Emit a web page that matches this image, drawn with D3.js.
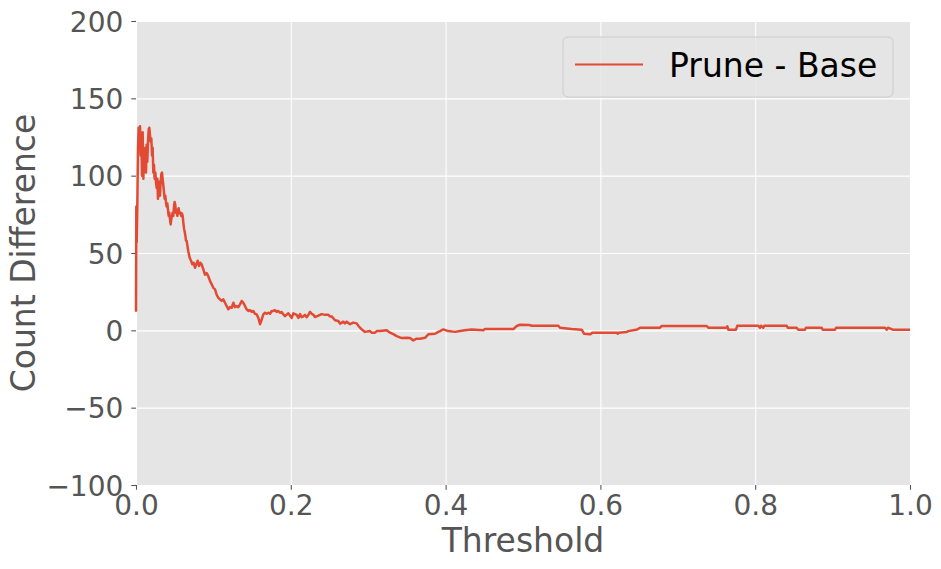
<!DOCTYPE html>
<html>
<head>
<meta charset="utf-8">
<script src="https://cdn.jsdelivr.net/npm/d3@7"></script>
<style>
  body { margin: 0; background: #fff; }
  text { font-family: "DejaVu Sans", sans-serif; }
</style>
</head>
<body>
<div id="my_dataviz"></div>
<script>
// data
var seriesName = "Prune - Base";
var xLabel = "Threshold";
var yLabel = "Count Difference";
var xTicks = [0, 0.2, 0.4, 0.6, 0.8, 1.0];
var yTicks = [-100, -50, 0, 50, 100, 150, 200];

var thresholds = [
  0.0000, 0.0004, 0.0009, 0.0017, 0.0026, 0.0034, 0.0043, 0.0052, 0.0060, 0.0069,
  0.0078, 0.0086, 0.0095, 0.0103, 0.0112, 0.0121, 0.0129, 0.0138, 0.0146, 0.0155,
  0.0164, 0.0172, 0.0181, 0.0189, 0.0198, 0.0207, 0.0215, 0.0224, 0.0232, 0.0241,
  0.0250, 0.0258, 0.0267, 0.0276, 0.0284, 0.0293, 0.0301, 0.0310, 0.0319, 0.0327,
  0.0336, 0.0344, 0.0353, 0.0362, 0.0370, 0.0379, 0.0387, 0.0396, 0.0405, 0.0413,
  0.0422, 0.0430, 0.0439, 0.0448, 0.0456, 0.0465, 0.0473, 0.0482, 0.0491, 0.0499,
  0.0508, 0.0516, 0.0525, 0.0534, 0.0542, 0.0551, 0.0560, 0.0568, 0.0577, 0.0585,
  0.0594, 0.0603, 0.0611, 0.0620, 0.0628, 0.0637, 0.0646,
  0.0655, 0.0676, 0.0693, 0.0711, 0.0728, 0.0745, 0.0762, 0.0779, 0.0797, 0.0814,
  0.0831, 0.0848, 0.0870, 0.0891, 0.0913, 0.0934, 0.0956, 0.0978, 0.0999, 0.1021,
  0.1042, 0.1064, 0.1085, 0.1107, 0.1128, 0.1150, 0.1171, 0.1193, 0.1214, 0.1236,
  0.1258, 0.1279, 0.1301, 0.1322, 0.1344, 0.1365, 0.1387, 0.1408, 0.1430, 0.1451,
  0.1473, 0.1494, 0.1516, 0.1537, 0.1559, 0.1581, 0.1602, 0.1624, 0.1645, 0.1667,
  0.1688, 0.1710, 0.1731, 0.1753, 0.1774, 0.1796, 0.1817, 0.1839, 0.1860, 0.1882,
  0.1903, 0.1925,
  0.1968, 0.2012, 0.2033, 0.2076, 0.2098, 0.2120, 0.2140, 0.2161, 0.2183, 0.2205,
  0.2227, 0.2248, 0.2270, 0.2292, 0.2313, 0.2356, 0.2399, 0.2442, 0.2485, 0.2506,
  0.2528, 0.2571, 0.2614, 0.2636, 0.2679, 0.2700, 0.2722, 0.2765, 0.2808, 0.2851,
  0.2873, 0.2894, 0.2930, 0.2959, 0.3023, 0.3045, 0.3088, 0.3110, 0.3152, 0.3239,
  0.3282, 0.3325, 0.3368, 0.3433, 0.3497, 0.3540, 0.3583, 0.3626, 0.3669, 0.3734,
  0.3777, 0.3863, 0.3906, 0.3928, 0.3970, 0.4035, 0.4121, 0.4186, 0.4250, 0.4337,
  0.4487, 0.4509, 0.4875, 0.4919, 0.4961, 0.5081, 0.5112, 0.5456, 0.5478, 0.5629,
  0.5758, 0.5788, 0.5866, 0.5900, 0.6211, 0.6223, 0.6236, 0.6340, 0.6360, 0.6477,
  0.6512, 0.6770, 0.6792, 0.7373, 0.7394, 0.7632, 0.7640, 0.7653, 0.7752, 0.7769,
  0.8040, 0.8062, 0.8075, 0.8105, 0.8118, 0.8407, 0.8420, 0.8536, 0.8557, 0.8643,
  0.8656, 0.8859, 0.8872, 0.9031, 0.9044, 0.9677, 0.9699, 0.9716, 0.9777, 1.0000
];

var countDiff = [
  12, 80, 57, 81, 118, 131, 128, 132, 113, 126,
  100, 128, 98, 111, 105, 118, 102, 120, 109, 122,
  130, 131, 126, 122, 124, 113, 118, 102, 107, 98,
  102, 96, 92, 98, 85, 92, 96, 87, 96, 101,
  102, 98, 94, 89, 85, 87, 83, 80, 82, 78,
  74, 76, 72, 68.5, 72, 74, 76, 74, 80, 83,
  81, 76, 78, 74, 76, 79, 76, 75.5, 76, 74,
  75.5, 74, 70, 66, 64, 61.5, 58,
  57.7, 51, 47, 45, 42.7, 43.7, 40.5, 42.7, 45, 41.6,
  43.7, 42.7, 39.4, 36, 37, 35, 32, 29.7, 27.5, 26.5,
  23, 21, 20, 19, 20, 17.8, 15.7, 13.6, 15, 14.6,
  17.8, 15, 15.7, 15, 16.8, 19, 17.8, 15.7, 13.6, 12.5,
  13, 12, 12.5, 10.7, 10.3, 8, 3.9, 7, 10.3, 11.4,
  10.7, 11.4, 10.7, 12.5, 12.5, 13, 12, 12.5, 11.4, 11.8,
  10.3, 9.2,
  11, 8, 11, 10, 8, 10.5, 8.5, 9, 10, 8.5,
  10, 12, 10.7, 10, 8.6, 9.5, 10.5, 10, 10, 9,
  9, 6.5, 6, 4.3, 5.6, 4.5, 5.6, 4, 5, 4.5,
  3, 1.7, 0, -1, -0.5, -1.5, -1.5, -0.5, -0.5, 0,
  -1.5, -2.5, -3.7, -5, -4.8, -5, -6.5, -5.4, -5.4, -4.8,
  -2.6, -2.2, -1, -0.5, 0.6, -0.5, -1, -0.5, 0, 0.6,
  0, 0.8, 0.8, 2.8, 3.6, 3.4, 3, 3, 1.7, 0.8,
  0.4, -2.2, -2.6, -1.5, -1.5, -2.2, -1.5, -1.1, -0.5, 0.6,
  1.7, 1.7, 2.8, 2.8, 1.7, 1.7, 2.6, 0.4, 0.4, 3,
  3, 1.7, 3, 1.7, 3, 3, 1.7, 1.7, 0.4, 0.4,
  1.7, 1.7, 0.4, 0.4, 1.7, 1.7, 0.4, 1.7, 0.4, 0.4
];

var data = thresholds.map(function(t, i) { return {t: t, v: countDiff[i]}; });

// plot box
var W = 941, H = 569;
var plotLeft = 136, plotRight = 910, plotTop = 21, plotBottom = 485;

var svg = d3.select("#my_dataviz")
  .append("svg")
  .attr("width", W)
  .attr("height", H);

var x = d3.scaleLinear().domain([0, 1]).range([plotLeft, plotRight]);
var y = d3.scaleLinear().domain([-100, 200]).range([plotBottom, plotTop]);

svg.append("rect")
  .attr("x", plotLeft).attr("y", plotTop)
  .attr("width", plotRight - plotLeft).attr("height", plotBottom - plotTop)
  .attr("fill", "#E5E5E5");

// grid
svg.append("g")
  .attr("transform", "translate(0," + plotBottom + ")")
  .call(d3.axisBottom(x).tickValues(xTicks).tickSize(-(plotBottom - plotTop)).tickFormat(""))
  .call(function(g) {
    g.select(".domain").remove();
    g.selectAll("line").attr("stroke", "#fff").attr("stroke-width", 1.1);
  });

svg.append("g")
  .attr("transform", "translate(" + plotLeft + ",0)")
  .call(d3.axisLeft(y).tickValues(yTicks).tickSize(-(plotRight - plotLeft)).tickFormat(""))
  .call(function(g) {
    g.select(".domain").remove();
    g.selectAll("line").attr("stroke", "#fff").attr("stroke-width", 1.1);
  });

// axes with ticks + labels
var xAxis = svg.append("g")
  .attr("transform", "translate(0," + plotBottom + ")")
  .call(d3.axisBottom(x).tickValues(xTicks).tickSize(4.7).tickPadding(6).tickFormat(d3.format(".1f")));

var yAxis = svg.append("g")
  .attr("transform", "translate(" + plotLeft + ",0)")
  .call(d3.axisLeft(y).tickValues(yTicks).tickSize(4.7).tickPadding(8).tickFormat(d3.format("d")));

[xAxis, yAxis].forEach(function(g) {
  g.select(".domain").remove();
  g.selectAll("line").attr("stroke", "#555").attr("stroke-width", 1.1);
  g.selectAll("text")
    .attr("fill", "#555")
    .attr("font-size", "28px")
    .attr("font-family", "DejaVu Sans");
});
xAxis.selectAll("text").attr("dy", null).attr("y", 30);
yAxis.selectAll("text").attr("dy", "0.36em");

// the line
var line = d3.line()
  .x(function(d) { return x(d.t); })
  .y(function(d) { return y(d.v); });

svg.append("path")
  .datum(data)
  .attr("fill", "none")
  .attr("stroke", "#E24A33")
  .attr("stroke-width", 2.5)
  .attr("stroke-linejoin", "round")
  .attr("d", line);

// axis titles
svg.append("text")
  .attr("x", (plotLeft + plotRight) / 2)
  .attr("y", 552)
  .attr("text-anchor", "middle")
  .attr("font-size", "33px")
  .attr("fill", "#555")
  .text(xLabel);

svg.append("text")
  .attr("transform", "translate(35," + (plotTop + plotBottom) / 2 + ") rotate(-90)")
  .attr("text-anchor", "middle")
  .attr("font-size", "33px")
  .attr("fill", "#555")
  .text(yLabel);

// legend
var lg = svg.append("g");
lg.append("rect")
  .attr("x", 563).attr("y", 37)
  .attr("width", 330).attr("height", 60)
  .attr("rx", 5)
  .attr("fill", "#E5E5E5")
  .attr("fill-opacity", 0.8)
  .attr("stroke", "#CCCCCC")
  .attr("stroke-width", 1);
lg.append("line")
  .attr("x1", 575).attr("x2", 643)
  .attr("y1", 64.5).attr("y2", 64.5)
  .attr("stroke", "#E24A33")
  .attr("stroke-width", 2);
lg.append("text")
  .attr("x", 669).attr("y", 77)
  .attr("font-size", "33px")
  .attr("fill", "#000")
  .text(seriesName);
</script>
</body>
</html>
